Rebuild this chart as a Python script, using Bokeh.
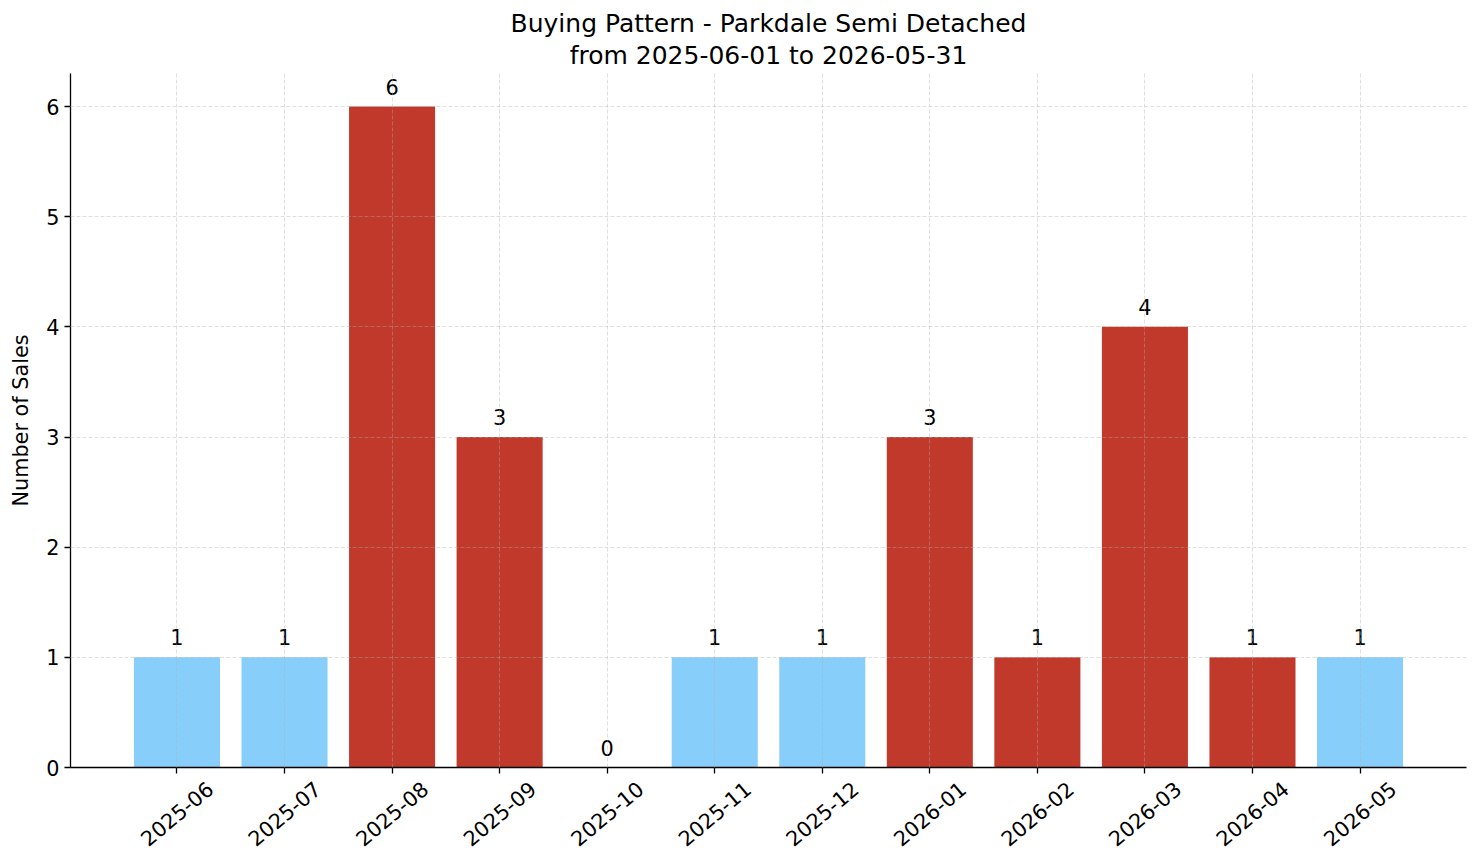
import math
from bokeh.plotting import figure
from bokeh.models import (ColumnDataSource, Range1d, SingleIntervalTicker, Title,
                          LinearAxis, FixedTicker)
from bokeh.core.properties import value
from bokeh.embed import file_html
from bokeh.resources import INLINE

months = ["2025-06", "2025-07", "2025-08", "2025-09", "2025-10", "2025-11",
          "2025-12", "2026-01", "2026-02", "2026-03", "2026-04", "2026-05"]
sales = [1, 1, 6, 3, 0, 1, 1, 3, 1, 4, 1, 1]
bar_colors = ["#87CEFA", "#87CEFA", "#C0392B", "#C0392B", "#87CEFA", "#87CEFA",
              "#87CEFA", "#C0392B", "#C0392B", "#C0392B", "#C0392B", "#87CEFA"]
title_line1 = "Buying Pattern - Parkdale Semi Detached"
title_line2 = "from 2025-06-01 to 2026-05-31"
y_label = "Number of Sales"

FONT = "DejaVu Sans"
TICK_FS = "20.8px"
TITLE_FS = "25px"

n = len(months)
pos = list(range(n))
src = ColumnDataSource(dict(pos=pos, month=months, sales=sales, color=bar_colors,
                            label=[str(v) for v in sales]))

PAD = 0.99
p = figure(x_range=Range1d(-PAD, n - 1 + PAD),
           y_range=Range1d(0, 6.3),
           frame_width=1396, frame_height=694,
           min_border_left=70, min_border_right=15, min_border_top=73, min_border_bottom=96,
           output_backend="svg", toolbar_location=None, title=None)
p.outline_line_color = None
p.background_fill_color = "white"
p.border_fill_color = "white"

p.vbar(x="pos", top="sales", width=0.8, color="color", source=src, line_color=None)
p.text(x="pos", y="sales", text="label", source=src, text_align="center",
       text_baseline="bottom", y_offset=-12, text_font=value(FONT),
       text_font_size=TICK_FS, text_color="black")

p.add_layout(Title(text=title_line2, align="center", text_font=FONT,
                   text_font_size=TITLE_FS, text_font_style="normal",
                   text_color="black", standoff=7), "above")
p.add_layout(Title(text=title_line1, align="center", text_font=FONT,
                   text_font_size=TITLE_FS, text_font_style="normal",
                   text_color="black", standoff=-4), "above")

for ax in (p.xaxis[0], p.yaxis[0]):
    ax.axis_line_color = "black"
    ax.axis_line_width = 1.3
    ax.major_tick_line_color = "black"
    ax.major_tick_line_width = 1.3
    ax.major_tick_in = 0
    ax.major_tick_out = 6
    ax.minor_tick_line_color = None
    ax.major_label_text_font = FONT
    ax.major_label_text_font_size = TICK_FS
    ax.major_label_text_color = "black"
    ax.axis_label_text_font = FONT
    ax.axis_label_text_font_size = TICK_FS
    ax.axis_label_text_font_style = "normal"
    ax.axis_label_text_color = "black"

# main x axis: ticks only
p.xaxis[0].ticker = FixedTicker(ticks=pos)
p.xaxis[0].major_label_text_color = None
p.xaxis[0].major_label_text_font_size = "1px"
p.xaxis[0].major_label_standoff = 0

# second axis carries the rotated month labels, shifted so each label is centred under its tick
SHIFT = 0.307
p.extra_x_ranges = {"labels": Range1d(-PAD - SHIFT, n - 1 + PAD - SHIFT)}
lab_axis = LinearAxis(x_range_name="labels",
                      ticker=FixedTicker(ticks=pos),
                      major_label_overrides={i: m for i, m in zip(pos, months)},
                      axis_line_color=None, major_tick_line_color=None, minor_tick_line_color=None,
                      major_label_orientation=math.radians(40), major_label_standoff=6,
                      major_label_text_font=FONT, major_label_text_font_size=TICK_FS,
                      major_label_text_color="black")
p.add_layout(lab_axis, "below")

p.yaxis.ticker = SingleIntervalTicker(interval=1)
p.yaxis.axis_label = y_label
p.yaxis.major_label_standoff = 5
p.yaxis.axis_label_standoff = 10

for g in (p.xgrid[0], p.ygrid[0]):
    g.grid_line_color = "#b0b0b0"
    g.grid_line_alpha = 0.5
    g.grid_line_dash = "4 2"
    g.grid_line_width = 0.8
    g.level = "annotation"

open("out.html", "w").write(file_html(p, INLINE))
